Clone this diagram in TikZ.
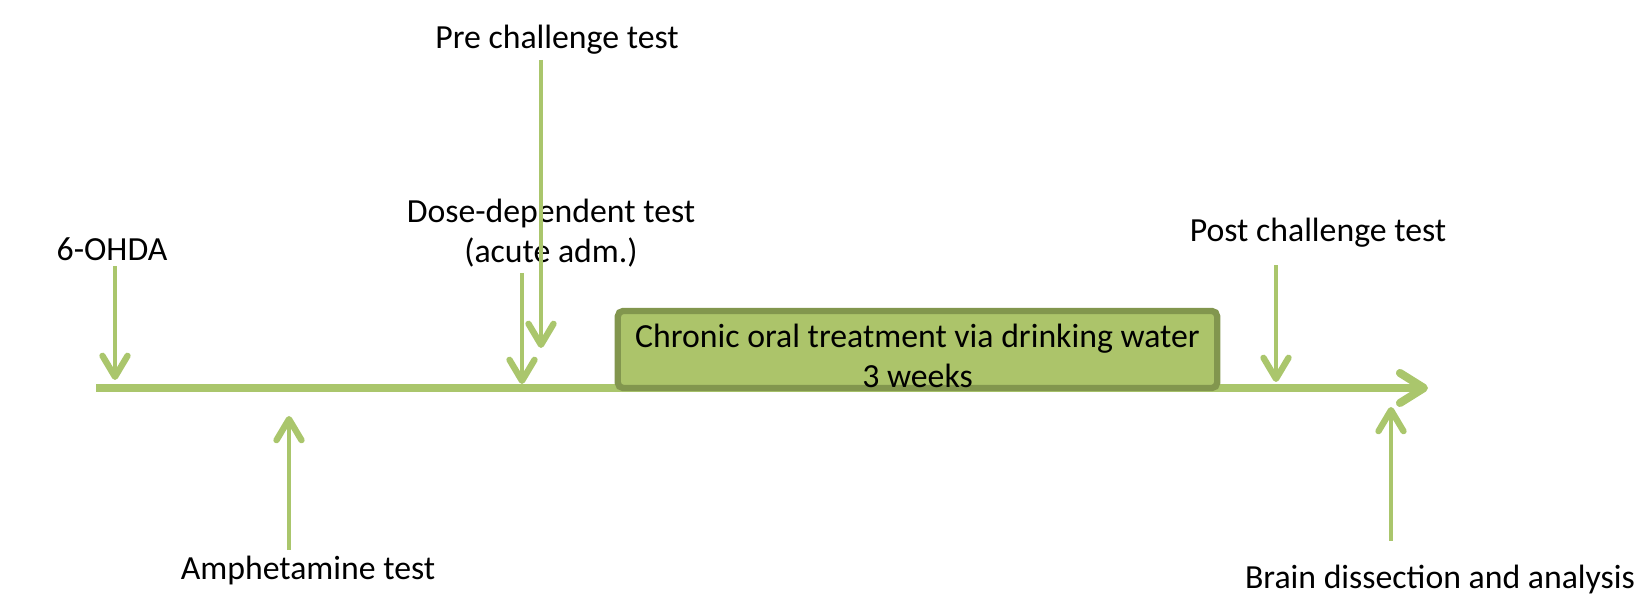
\documentclass[tikz,border=0pt]{standalone}
\usepackage{fontspec}
\setmainfont{Carlito}
\usetikzlibrary{arrows.meta}
\definecolor{tlgreen}{RGB}{170,198,108}
\definecolor{boxfill}{RGB}{172,196,106}
\definecolor{boxline}{RGB}{130,150,78}

\begin{document}
\begin{tikzpicture}[x=0.01cm,y=-0.01cm,
    lbl/.style={font=\fontsize{9.6}{11.5}\selectfont,inner sep=1.4pt,align=center},
    evt/.style={draw=tlgreen,line width=1.1pt,-{Straight Barb[length=0.21cm,width=0.25cm,line width=1.8pt,round]}}]
    \useasboundingbox (0,0) rectangle (1642,595);
    % time line
    \coordinate (start) at (96,388);
    \coordinate (end) at (1428,388);
    \draw[tlgreen,line width=2.3pt,-{Straight Barb[length=0.24cm,width=0.3cm,round]}] (start) -- (end);
    \node[draw=boxline,fill=boxfill,line width=1.8pt,rounded corners=1.5pt,
          minimum width=5.99cm,minimum height=0.77cm] (chronic) at (917.5,349.5) {};
    \node[lbl] (chronictxt) at (917.5,356) {Chronic oral treatment via drinking water\\3 weeks};
    % labels
    \node[lbl,anchor=south] (ohda) at (112,266) {6-OHDA};
    \node[lbl,anchor=north] (amph) at (308,550) {Amphetamine test};
    \node[lbl,anchor=south] (dose) at (551,273) {Dose-dependent test\\(acute adm.)};
    \node[lbl,anchor=south] (pre) at (557,60) {Pre challenge test};
    \node[lbl,anchor=base] (post) at (1318,242) {Post challenge test};
    \node[lbl,anchor=base] (brain) at (1440,589) {Brain dissection and analysis};
    % arrow tips
    \coordinate (ohdatip) at (115,380);
    \coordinate (amphtip) at (289,416);
    \coordinate (dosetip) at (522,384);
    \coordinate (pretip) at (541,348);
    \coordinate (posttip) at (1276,382);
    \coordinate (braintip) at (1391,407);
    \draw[evt] (ohda.south -| ohdatip) -- (ohdatip);
    \draw[evt] (amph.north -| amphtip) -- (amphtip);
    \draw[evt] (dose.south -| dosetip) -- (dosetip);
    \draw[evt] (pre.south -| pretip) -- (pretip);
    \draw[evt,shorten <=0.12cm] (post.south -| posttip) -- (posttip);
    \draw[evt,shorten <=0.19cm] (brain.north -| braintip) -- (braintip);
\end{tikzpicture}
\end{document}
